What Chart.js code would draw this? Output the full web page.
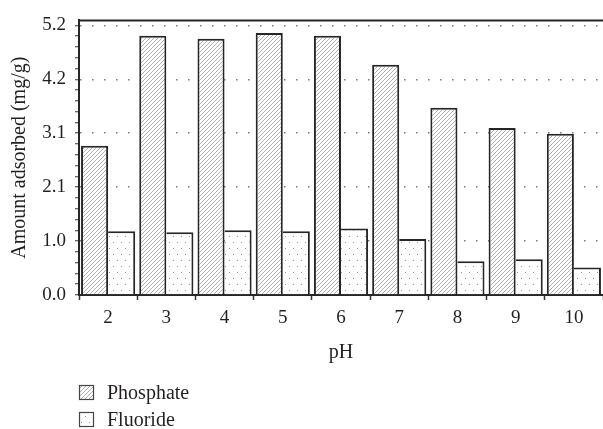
<!DOCTYPE html>
<html>
<head>
<meta charset="utf-8">
<script src="https://cdn.jsdelivr.net/npm/chart.js@4"></script>
<style>
  html, body { margin: 0; padding: 0; background: #fff; }
</style>
</head>
<body>
<canvas id="chart" width="603" height="429"></canvas>
<script>
// data
const categories = ['2', '3', '4', '5', '6', '7', '8', '9', '10'];
const phosphate = [2.88, 5.00, 4.94, 5.05, 5.00, 4.44, 3.61, 3.22, 3.11];
const fluoride = [1.23, 1.21, 1.25, 1.23, 1.28, 1.08, 0.65, 0.69, 0.53];
const yTickValues = [0, 1.04, 2.08, 3.12, 4.16, 5.2];
const yTickLabels = ['0.0', '1.0', '2.1', '3.1', '4.2', '5.2'];

const serif = '"Liberation Serif", "Times New Roman", serif';
const textColor = '#231f20';
const lineColor = '#262626';

const canvas = document.getElementById('chart');
const ctx = canvas.getContext('2d');

// fill patterns
function hatchPattern() {
    const c = document.createElement('canvas');
    c.width = 4; c.height = 4;
    const g = c.getContext('2d');
    g.fillStyle = '#fff';
    g.fillRect(0, 0, 4, 4);
    g.strokeStyle = '#a8a8a8';
    g.lineWidth = 0.9;
    g.beginPath();
    g.moveTo(-1, 5); g.lineTo(5, -1);
    g.moveTo(-1, 1); g.lineTo(1, -1);
    g.moveTo(3, 5); g.lineTo(5, 3);
    g.stroke();
    return ctx.createPattern(c, 'repeat');
}

function dotPattern() {
    const c = document.createElement('canvas');
    c.width = 8; c.height = 12;
    const g = c.getContext('2d');
    g.fillStyle = '#fff';
    g.fillRect(0, 0, 8, 12);
    g.fillStyle = '#9a9a9a';
    g.fillRect(1, 2, 1, 1);
    g.fillRect(5, 8, 1, 1);
    return ctx.createPattern(c, 'repeat');
}

const hatch = hatchPattern();
const dots = dotPattern();

// top frame line + stacked legend under the plot
const frameAndLegend = {
    id: 'frameAndLegend',
    afterDraw(chart) {
        const c = chart.ctx;
        const area = chart.chartArea;
        c.save();
        c.strokeStyle = lineColor;
        c.lineWidth = 2;
        c.beginPath();
        c.moveTo(area.left, area.top);
        c.lineTo(area.right, area.top);
        c.stroke();

        chart.data.datasets.forEach((ds, i) => {
            const y = 385 + i * 27;
            c.fillStyle = ds.backgroundColor;
            c.fillRect(79, y, 15, 15);
            c.strokeStyle = '#444';
            c.lineWidth = 1.2;
            c.strokeRect(79.5, y + 0.5, 14, 14);
            c.fillStyle = textColor;
            c.font = '20px ' + serif;
            c.textBaseline = 'middle';
            c.fillText(ds.label, 107, y + 8.5);
        });
        c.restore();
    }
};

new Chart(ctx, {
    type: 'bar',
    data: {
        labels: categories,
        datasets: [
            {
                label: 'Phosphate',
                data: phosphate,
                backgroundColor: hatch,
                borderColor: lineColor,
                borderWidth: 2,
                borderSkipped: 'bottom'
            },
            {
                label: 'Fluoride',
                data: fluoride,
                backgroundColor: dots,
                borderColor: lineColor,
                borderWidth: { top: 2, right: 2, left: 0, bottom: 0 }
            }
        ]
    },
    options: {
        responsive: false,
        animation: false,
        devicePixelRatio: 1,
        categoryPercentage: 0.93,
        barPercentage: 1.0,
        layout: { padding: { top: 15, right: 0, left: 0, bottom: 64 } },
        plugins: {
            legend: { display: false },
            tooltip: { enabled: false }
        },
        scales: {
            x: {
                grid: {
                    offset: true,
                    drawOnChartArea: false,
                    tickLength: 5,
                    tickColor: '#333',
                    tickWidth: 1.5
                },
                border: { color: lineColor, width: 2 },
                ticks: {
                    color: textColor,
                    font: { family: serif, size: 19 },
                    padding: 7
                },
                title: {
                    display: true,
                    text: 'pH',
                    color: textColor,
                    font: { family: serif, size: 20 },
                    padding: { top: 3, bottom: 0 }
                },
                afterFit(scale) { scale.height = 70; }
            },
            y: {
                min: 0,
                max: 5.295,
                afterBuildTicks(scale) {
                    const ticks = [];
                    for (let i = 0; i < yTickValues.length; i++) {
                        ticks.push({ value: yTickValues[i], isMajor: true, text: yTickLabels[i] });
                        if (i < yTickValues.length - 1) {
                            const step = (yTickValues[i + 1] - yTickValues[i]) / 5;
                            for (let k = 1; k < 5; k++) {
                                ticks.push({ value: yTickValues[i] + step * k, isMajor: false, text: '' });
                            }
                        }
                    }
                    scale.ticks = ticks;
                },
                ticks: {
                    autoSkip: false,
                    color: textColor,
                    font: { family: serif, size: 19 },
                    padding: 9,
                    callback: (v, i, ticks) => ticks[i].text
                },
                grid: {
                    color: (c) => (c.tick && c.tick.isMajor ? '#7a7a7a' : 'rgba(0,0,0,0)'),
                    lineWidth: 1.5,
                    tickLength: 4,
                    tickColor: '#333',
                    tickWidth: 1
                },
                border: { color: lineColor, width: 2, dash: [1.5, 10.5] },
                title: {
                    display: true,
                    text: 'Amount adsorbed (mg/g)',
                    color: textColor,
                    font: { family: serif, size: 20 },
                    padding: { top: 8, bottom: 0 }
                },
                afterFit(scale) { scale.width = 79; }
            }
        }
    },
    plugins: [frameAndLegend]
});
</script>
</body>
</html>
